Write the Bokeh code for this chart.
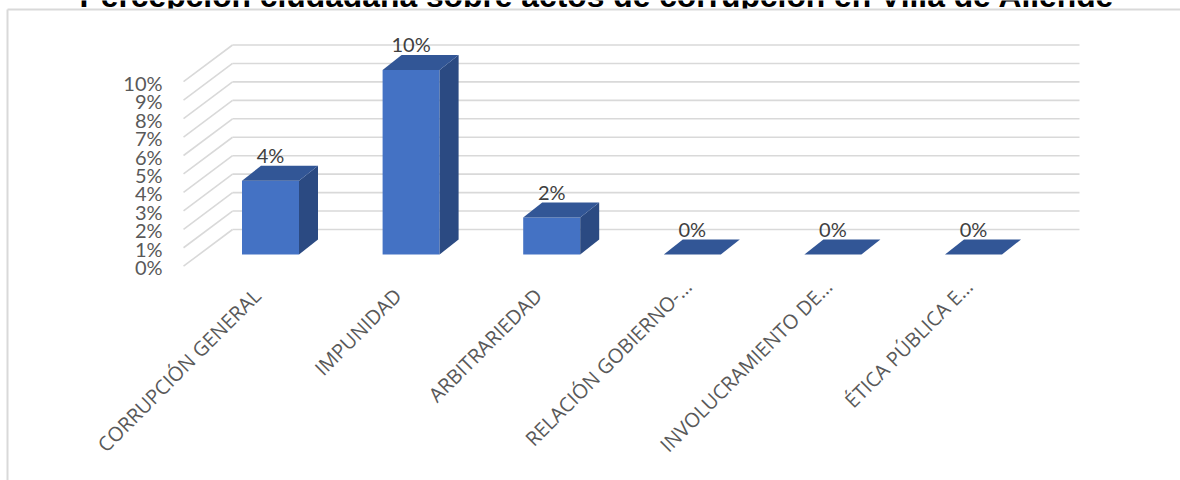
import math
from bokeh.plotting import figure
from bokeh.models import Range1d, ColumnDataSource
from bokeh.core.properties import value
from bokeh.embed import file_html
from bokeh.resources import INLINE

# ---------------- data ----------------
title_text = "Percepción ciudadana sobre actos de corrupción en Villa de Allende"
categories = ["CORRUPCIÓN GENERAL", "IMPUNIDAD", "ARBITRARIEDAD",
              "RELACIÓN GOBIERNO-…", "INVOLUCRAMIENTO DE…", "ÉTICA PÚBLICA E…"]
values = [4, 10, 2, 0, 0, 0]
value_labels = ["4%", "10%", "2%", "0%", "0%", "0%"]
y_ticks = [0, 1, 2, 3, 4, 5, 6, 7, 8, 9, 10]
y_tick_labels = [f"{t}%" for t in y_ticks]

# ---------------- layout (pixels) ----------------
W, H = 1180, 480
X0_PX = 270.0      # pixel x of first category (bar plane)
STEP_PX = 140.6    # pixels per category
BASE_PY = 254.0    # pixel y of 0% in bar plane
PCT_PX = 18.45     # pixels per 1 %

def xd(px):   # pixel distance -> data distance (x)
    return px / STEP_PX

def yd(px):   # pixel distance (upwards) -> data distance (y)
    return px / PCT_PX

def sx(px):   # canvas pixel -> data x
    return (px - X0_PX) / STEP_PX

def sy(py):   # canvas pixel -> data y
    return (BASE_PY - py) / PCT_PX

WALL_L, WALL_R = -0.507, 5.517
FRONT_DX, FRONT_DY = -15.7, -11.7
BACK_DX, BACK_DY = 33.3, 25.0
BAR_HALF = 28.5
DEP_DX, DEP_DY = 19.0, 15.0

FRONT_COL = "#4472C4"
TOP_COL = "#325696"
SIDE_COL = "#2B4A82"
GRID_COL = "#D9D9D9"

p = figure(width=W, height=H, output_backend="svg", toolbar_location=None,
           x_range=Range1d(sx(0), sx(W)), y_range=Range1d(sy(H), sy(0)),
           x_axis_type=None, y_axis_type=None, min_border=0)
p.outline_line_color = None
p.background_fill_color = "white"
p.border_fill_color = "white"

# title (partly cut at the top, as in the reference)
p.text(x=[sx(596.5)], y=[sy(-5)], text=[title_text], text_align="center",
       text_baseline="middle", text_font=value("Liberation Sans"),
       text_font_style="bold", text_font_size="31.8px", text_color="#000000")

# chart area fill + border
p.quad(left=[sx(7)], right=[sx(W + 10)], top=[sy(9)], bottom=[sy(H + 10)],
       fill_color="white", line_color=None)
p.line(x=[sx(7), sx(7)], y=[sy(9), sy(H + 10)], line_color=GRID_COL, line_width=2)
p.line(x=[sx(7), sx(W + 10)], y=[sy(9), sy(9)], line_color=GRID_COL, line_width=2)

# gridlines: back wall and side wall
back_xs, back_ys, side_xs, side_ys = [], [], [], []
for t in y_ticks:
    back_xs.append([WALL_L + xd(BACK_DX), WALL_R + xd(BACK_DX)])
    back_ys.append([t + yd(BACK_DY), t + yd(BACK_DY)])
    side_xs.append([WALL_L + xd(FRONT_DX), WALL_L + xd(BACK_DX)])
    side_ys.append([t + yd(FRONT_DY), t + yd(BACK_DY)])
p.multi_line(xs=back_xs, ys=back_ys, line_color=GRID_COL, line_width=1.6)
p.multi_line(xs=side_xs, ys=side_ys, line_color=GRID_COL, line_width=1.6)

# y tick labels
p.text(x=[WALL_L + xd(FRONT_DX - 21)] * len(y_ticks),
       y=[t + yd(FRONT_DY) for t in y_ticks], text=y_tick_labels,
       text_align="right", text_baseline="middle", y_offset=1,
       text_font=value("Lato"), text_font_size="20px", text_color="#595959")

# 3D bars
idx = list(range(len(categories)))
left = [i - xd(BAR_HALF) for i in idx]
right = [i + xd(BAR_HALF) for i in idx]
src = ColumnDataSource(dict(left=left, right=right, top=values, bottom=[0] * len(idx)))
p.quad(left="left", right="right", top="top", bottom="bottom", source=src,
       fill_color=FRONT_COL, line_color=None)

top_xs, top_ys, side_bx, side_by = [], [], [], []
for i, v in zip(idx, values):
    l, r = left[i], right[i]
    top_xs.append([l, r, r + xd(DEP_DX), l + xd(DEP_DX)])
    top_ys.append([v, v, v + yd(DEP_DY), v + yd(DEP_DY)])
    if v > 0:
        side_bx.append([r, r + xd(DEP_DX), r + xd(DEP_DX), r])
        side_by.append([0, yd(DEP_DY), v + yd(DEP_DY), v])
p.patches(xs=side_bx, ys=side_by, fill_color=SIDE_COL, line_color=None)
p.patches(xs=top_xs, ys=top_ys, fill_color=TOP_COL, line_color=None)

# data labels
p.text(x=idx, y=[v + yd(DEP_DY) for v in values], text=value_labels,
       text_align="center", text_baseline="middle", y_offset=-11,
       text_font=value("Lato"), text_font_size="20px", text_color="#404040")

# category labels (rotated); truncated ones sit a little further along
full = [i for i in idx if not categories[i].endswith("…")]
trunc = [i for i in idx if categories[i].endswith("…")]
for sel, xo, yo in ((full, -23, 28), (trunc, -14, 19)):
    p.text(x=sel, y=[0] * len(sel), text=[categories[i] for i in sel],
           angle=math.pi / 4, text_align="right", text_baseline="top",
           x_offset=xo, y_offset=yo, text_font=value("Open Sans"),
           text_font_size="20px", text_color="#595959")

open("out.html", "w").write(file_html(p, INLINE))
